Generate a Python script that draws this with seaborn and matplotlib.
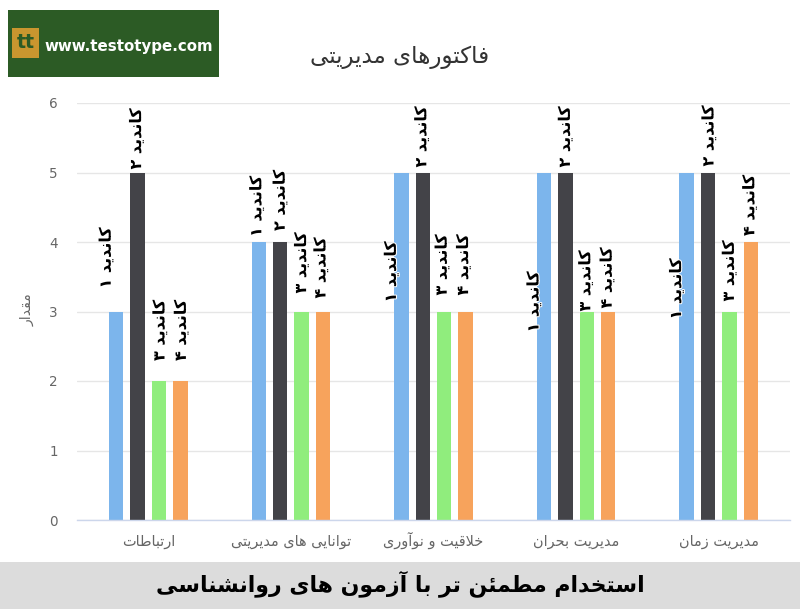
import matplotlib
matplotlib.use("Agg")
import matplotlib.pyplot as plt
import matplotlib.patheffects as pe
from matplotlib.patches import Rectangle
from matplotlib.ticker import FixedLocator
import seaborn as sns
import pandas as pd

# ---- chart data -------------------------------------------------------------
categories = ["ارتباطات", "توانایی های مدیریتی", "خلاقیت و نوآوری",
              "مدیریت بحران", "مدیریت زمان"]
series_names = ["کاندید ۱", "کاندید ۲", "کاندید ۳", "کاندید ۴"]
candidate_1 = [3, 4, 5, 5, 5]
candidate_2 = [5, 4, 5, 5, 5]
candidate_3 = [2, 3, 3, 3, 3]
candidate_4 = [2, 3, 3, 3, 4]
y_ticks = [0, 1, 2, 3, 4, 5, 6]
chart_title = "فاکتورهای مدیریتی"
y_title = "مقدار"
banner_text = "استخدام مطمئن تر با آزمون های روانشناسی"
site_text = "www.testotype.com"

# ---- minimal Persian shaping (presentation forms + visual order) -------------
FORMS = {
    "ا": ("\uFE8D", "\uFE8E", None, None),
    "آ": ("\uFE81", "\uFE82", None, None),
    "د": ("\uFEA9", "\uFEAA", None, None),
    "ر": ("\uFEAD", "\uFEAE", None, None),
    "ز": ("\uFEAF", "\uFEB0", None, None),
    "و": ("\uFEED", "\uFEEE", None, None),
    "ب": ("\uFE8F", "\uFE90", "\uFE91", "\uFE92"),
    "ت": ("\uFE95", "\uFE96", "\uFE97", "\uFE98"),
    "ح": ("\uFEA1", "\uFEA2", "\uFEA3", "\uFEA4"),
    "خ": ("\uFEA5", "\uFEA6", "\uFEA7", "\uFEA8"),
    "س": ("\uFEB1", "\uFEB2", "\uFEB3", "\uFEB4"),
    "ش": ("\uFEB5", "\uFEB6", "\uFEB7", "\uFEB8"),
    "ط": ("\uFEC1", "\uFEC2", "\uFEC3", "\uFEC4"),
    "ف": ("\uFED1", "\uFED2", "\uFED3", "\uFED4"),
    "ق": ("\uFED5", "\uFED6", "\uFED7", "\uFED8"),
    "ل": ("\uFEDD", "\uFEDE", "\uFEDF", "\uFEE0"),
    "م": ("\uFEE1", "\uFEE2", "\uFEE3", "\uFEE4"),
    "ن": ("\uFEE5", "\uFEE6", "\uFEE7", "\uFEE8"),
    "ه": ("\uFEE9", "\uFEEA", "\uFEEB", "\uFEEC"),
    "ئ": ("\uFE89", "\uFE8A", "\uFE8B", "\uFE8C"),
    "ک": ("\uFB8E", "\uFB8F", "\uFB90", "\uFB91"),
    "ی": ("\uFBFC", "\uFBFD", "\uFBFE", "\uFBFF"),
}
LAM_ALEF = {"ا": ("\uFEFB", "\uFEFC"), "آ": ("\uFEF5", "\uFEF6")}


def _dual(c):
    return c in FORMS and FORMS[c][2] is not None


def fa(text):
    chars = list(text)
    out = []
    i = 0
    n = len(chars)
    while i < n:
        c = chars[i]
        if c not in FORMS:
            out.append(c)
            i += 1
            continue
        link_prev = i > 0 and _dual(chars[i - 1])
        if c == "ل" and i + 1 < n and chars[i + 1] in LAM_ALEF:
            lig = LAM_ALEF[chars[i + 1]]
            out.append(lig[1] if link_prev else lig[0])
            i += 2
            continue
        link_next = _dual(c) and i + 1 < n and chars[i + 1] in FORMS
        iso, fin, ini, med = FORMS[c]
        if link_prev and link_next:
            out.append(med)
        elif link_prev:
            out.append(fin)
        elif link_next:
            out.append(ini)
        else:
            out.append(iso)
        i += 1
    return "".join(reversed(out))


# ---- figure ------------------------------------------------------------------
W, H = 800, 609
sns.set_style("white")
plt.rcParams["font.family"] = ["DejaVu Sans"]

fig = plt.figure(figsize=(W / 100, H / 100), dpi=100)
fig.patch.set_facecolor("white")


def px(v):
    return v * 0.72  # pixel size -> points at 100 dpi


ax = fig.add_axes([77 / W, 1 - 520 / H, (790 - 77) / W, (520 - 103) / H])

rows = []
values = [candidate_1, candidate_2, candidate_3, candidate_4]
for s_name, s_vals in zip(series_names, values):
    for cat, v in zip(categories, s_vals):
        rows.append({"category": fa(cat), "series": s_name, "value": v})
df = pd.DataFrame(rows)

palette = ["#7cb5ec", "#434348", "#90ed7d", "#f7a35c"]
sns.barplot(data=df, x="category", y="value", hue="series",
            order=[fa(c) for c in categories], hue_order=series_names,
            palette=palette, width=0.6, gap=0.33, linewidth=0,
            errorbar=None, saturation=1, legend=False, ax=ax, zorder=2)

ax.set_xlim(-0.5, len(categories) - 0.5)
ax.set_ylim(y_ticks[0], y_ticks[-1])
ax.set_yticks(y_ticks)
ax.set_yticklabels([str(t) for t in y_ticks])
ax.set_xlabel("")
ax.set_ylabel("")

for side in ("left", "top", "right"):
    ax.spines[side].set_visible(False)
ax.spines["bottom"].set_color("#ccd6eb")
ax.spines["bottom"].set_linewidth(1)
ax.spines["bottom"].set_zorder(3)

ax.set_axisbelow(True)
ax.yaxis.grid(True, color="#e6e6e6", linewidth=1)
ax.xaxis.grid(False)

ax.tick_params(axis="y", length=0, pad=px(19), labelsize=px(13.5), labelcolor="#666666")
ax.tick_params(axis="x", which="major", length=0, pad=px(26), labelsize=px(14.5),
               labelcolor="#666666")
for lbl in ax.get_xticklabels():
    lbl.set_verticalalignment("baseline")
ax.xaxis.set_minor_locator(FixedLocator([i - 0.5 for i in range(len(categories) + 1)]))
ax.tick_params(axis="x", which="minor", length=10, width=1, color="#ccd6eb",
               direction="out")

# series name labels above the bars (pixel shifts from each bar's top)
label_shift = {
    0: [(-10, 23), (-2, 5), (-10, -130), (-10, -160), (-10, -147)],
    1: [(-1, 3), (0, 11), (-1, 5), (0, 5), (1, 6)],
    2: [(1, 20), (0, 18), (-2, 16), (-1, 0), (0, 10)],
    3: [(1, 20), (-2, 13), (-2, 16), (-1, 3), (-1, 6)],
}
for si, cont in enumerate(ax.containers):
    for ci, bar in enumerate(cont):
        x = bar.get_x() + bar.get_width() / 2
        top = bar.get_height()
        dx, dy = label_shift[si][ci]
        ax.annotate(fa(series_names[si]), xy=(x, top), xytext=(dx, dy),
                    textcoords="offset pixels", rotation=90,
                    ha="center", va="bottom", fontsize=px(16),
                    fontweight="bold", color="black", zorder=4,
                    annotation_clip=False,
                    path_effects=[pe.withStroke(linewidth=1.5, foreground="white")])

# titles
fig.text(400 / W, 1 - 57 / H, fa(chart_title), ha="center", va="center",
         fontsize=px(23), color="#333333")
fig.text(28 / W, 1 - 310 / H, fa(y_title), ha="center", va="center",
         rotation=90, fontsize=px(14), color="#666666")

# site badge, top left
fig.patches.append(Rectangle((8 / W, 1 - 77 / H), (219 - 8) / W, (77 - 10) / H,
                             transform=fig.transFigure, facecolor="#2c5b25",
                             edgecolor="none", zorder=5))
fig.patches.append(Rectangle((12 / W, 1 - 58 / H), 27 / W, 30 / H,
                             transform=fig.transFigure, facecolor="#c9962f",
                             edgecolor="none", zorder=6))
fig.text(25.5 / W, 1 - 43 / H, "tt", ha="center", va="center", fontsize=px(19),
         fontweight="bold", color="#2c5b25", zorder=7)
fig.text(129 / W, 1 - 46 / H, site_text, ha="center", va="center",
         fontsize=px(15), fontweight="bold", color="white", zorder=7)

# bottom banner
fig.patches.append(Rectangle((0, 0), 1, (609 - 562) / H,
                             transform=fig.transFigure, facecolor="#dcdcdc",
                             edgecolor="none", zorder=5))
fig.text(400 / W, 1 - 584 / H, fa(banner_text), ha="center", va="center",
         fontsize=px(22), fontweight="bold", color="black", zorder=7)

fig.savefig("out.png", dpi=100, facecolor="white")
